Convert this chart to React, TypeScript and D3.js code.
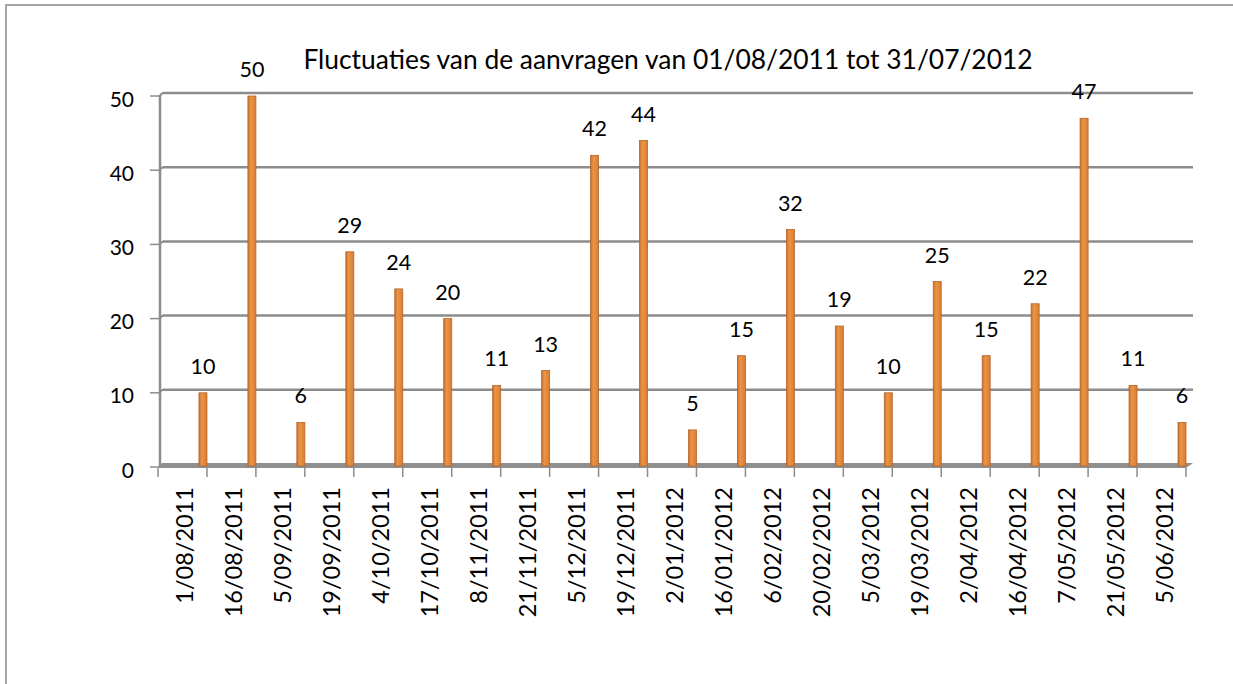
import * as d3 from "d3"

const categories = [
	"1/08/2011", "16/08/2011", "5/09/2011", "19/09/2011", "4/10/2011", "17/10/2011",
	"8/11/2011", "21/11/2011", "5/12/2011", "19/12/2011", "2/01/2012", "16/01/2012",
	"6/02/2012", "20/02/2012", "5/03/2012", "19/03/2012", "2/04/2012", "16/04/2012",
	"7/05/2012", "21/05/2012", "5/06/2012",
]
const aanvragen = [10, 50, 6, 29, 24, 20, 11, 13, 42, 44, 5, 15, 32, 19, 10, 25, 15, 22, 47, 11, 6]
const yTicks = [0, 10, 20, 30, 40, 50]
const title = "Fluctuaties van de aanvragen van 01/08/2011 tot 31/07/2012"

export default function App() {
	const width = 1233
	const height = 684
	const font = "Lato, 'Open Sans', sans-serif"

	// plot box (front of the 3d floor)
	const left = 158
	const right = 1186
	const depthX = 6
	const depthY = 4

	const x = d3.scaleBand<string>().domain(categories).range([left, right]).padding(0)
	const y = d3.scaleLinear().domain([0, 50]).range([467, 96])

	const barW = 8
	const gridColor = "#8c8c8c"

	return (
		<svg width={width} height={height} style={{ position: "absolute", left: 0, top: 0, background: "#fff" }}>
			<defs>
				<linearGradient id="bar" x1="0" x2="1" y1="0" y2="0">
					<stop offset="0" stopColor="#c8702a" />
					<stop offset="0.35" stopColor="#ec9445" />
					<stop offset="1" stopColor="#d97d33" />
				</linearGradient>
			</defs>

			{/* chart frame */}
			<rect x={6} y={5} width={width + 10} height={height + 10} fill="none" stroke="#a6a6a6" strokeWidth={2} />

			<text x={668} y={69} textAnchor="middle" fontFamily={font} fontSize={26.4} fill="#000">{title}</text>

			{/* gridlines on back wall */}
			{yTicks.slice(1).map(t => (
				<line key={"g" + t} x1={left + 5} x2={right + depthX + 1} y1={y(t) - 3} y2={y(t) - 3}
					stroke={gridColor} strokeWidth={2.5} />
			))}
			{/* elbows tick -> gridline */}
			{yTicks.slice(1).map(t => (
				<path key={"e" + t} d={`M${left + 2},${y(t)} Q${left + 3},${y(t) - 3} ${left + 6},${y(t) - 3}`}
					fill="none" stroke={gridColor} strokeWidth={2} />
			))}

			{/* y axis */}
			<line x1={left + 2} x2={left + 2} y1={y(50) - 1} y2={y(0)} stroke={gridColor} strokeWidth={2.5} />
			{yTicks.map(t => (
				<g key={"t" + t}>
					<line x1={150} x2={left + 2} y1={y(t)} y2={y(t)} stroke={gridColor} strokeWidth={1.5} />
					<text x={134} y={y(t) + 2} textAnchor="end" dominantBaseline="central" fontFamily={font} fontSize={21} fill="#000">{t}</text>
				</g>
			))}

			{/* floor */}
			<polygon
				points={`${left},${y(0) + 1} ${right},${y(0) + 1} ${right + depthX + 1},${y(0) - depthY} ${left + 4},${y(0) - depthY}`}
				fill="#8f8f8f" />

			{/* category ticks */}
			{categories.concat(["__end"]).map((c, i) => {
				const tx = c === "__end" ? right : (x(c) as number)
				return <line key={"xt" + i} x1={tx} x2={tx} y1={y(0) + 1} y2={y(0) + 10} stroke={gridColor} strokeWidth={1.5} />
			})}

			{/* bars */}
			{categories.map((c, i) => {
				const cx = (x(c) as number) + x.bandwidth() - 4
				const top = y(aanvragen[i])
				return (
					<g key={"b" + c}>
						<rect x={cx - barW / 2} y={top} width={barW} height={y(0) - top - 1}
							fill="url(#bar)" stroke="#b4652a" strokeWidth={0.8} />
						<text x={cx} y={top - 27} textAnchor="middle" dominantBaseline="central"
							fontFamily={font} fontSize={21.5} fill="#000">{aanvragen[i]}</text>
					</g>
				)
			})}

			{/* category labels */}
			{categories.map(c => {
				const lx = (x(c) as number) + x.bandwidth() / 2 + 2
				return (
					<text key={"l" + c} transform={`translate(${lx},${487}) rotate(-90)`} textAnchor="end"
						dominantBaseline="central" fontFamily={font} fontSize={23.5} fill="#000">{c}</text>
				)
			})}
		</svg>
	)
}
